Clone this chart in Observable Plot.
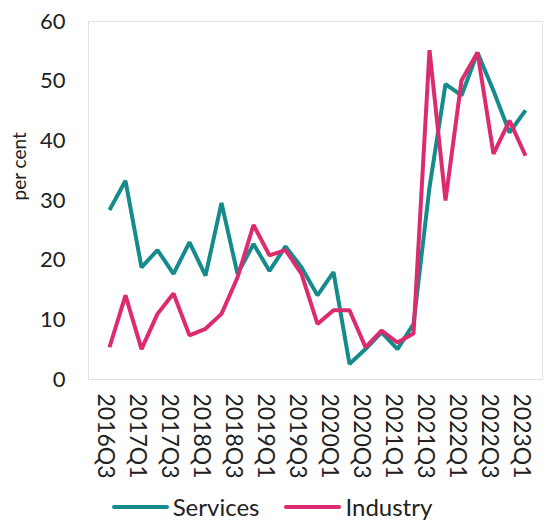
<!DOCTYPE html>
<html>
<head>
<meta charset="utf-8">
<script src="https://cdn.jsdelivr.net/npm/d3@7"></script>
<script src="https://cdn.jsdelivr.net/npm/@observablehq/plot@0.6"></script>
<style>
  html, body { margin: 0; padding: 0; background: #fff; overflow: hidden; }
  body { font-family: Lato, "Noto Sans", sans-serif; width: 544px; }
  #legend { display: flex; justify-content: center; align-items: center; font-size: 24px; color: #222; margin-top: 9px; line-height: 26px; }
  .item { display: flex; align-items: center; }
  .sw { width: 57px; height: 4px; border-radius: 2px; margin-right: 4px; }
  .item + .item { margin-left: 25px; }
</style>
</head>
<body>
<div id="chart"></div>
<div id="legend"></div>
<script>
const quarters = ["2016Q3","2016Q4","2017Q1","2017Q2","2017Q3","2017Q4","2018Q1","2018Q2","2018Q3","2018Q4","2019Q1","2019Q2","2019Q3","2019Q4","2020Q1","2020Q2","2020Q3","2020Q4","2021Q1","2021Q2","2021Q3","2021Q4","2022Q1","2022Q2","2022Q3","2022Q4","2023Q1"];
const services = [28.4, 33.3, 18.8, 21.7, 17.7, 23.0, 17.4, 29.6, 17.7, 22.7, 18.2, 22.3, 18.8, 14.1, 18.0, 2.6, 5.1, 7.9, 5.1, 9.3, 32.2, 49.5, 47.6, 54.8, 48.4, 41.4, 45.1];
const industry = [5.4, 14.1, 5.1, 11.0, 14.4, 7.4, 8.5, 11.0, 17.1, 25.9, 20.8, 21.7, 17.7, 9.3, 11.6, 11.6, 5.4, 8.2, 6.2, 7.7, 55.2, 30.0, 50.1, 54.8, 37.8, 43.4, 37.5];
const seriesNames = ["Services", "Industry"];
const seriesColors = ["#168b8b", "#dc2b6e"];
const yTicks = [0, 10, 20, 30, 40, 50, 60];
const xTicks = quarters.filter((d, i) => i % 2 === 0);
const yLabel = "per cent";

const rows = [];
[services, industry].forEach((vals, s) => vals.forEach((v, i) => rows.push({q: quarters[i], v, s: seriesNames[s]})));

const chart = Plot.plot({
  width: 544,
  height: 485,
  marginLeft: 88,
  marginRight: 2,
  marginTop: 21,
  marginBottom: 106,
  style: {fontFamily: "Lato, 'Noto Sans', sans-serif", fontSize: "22px", color: "#222"},
  x: {type: "point", domain: quarters, range: [96, 537], padding: 0},
  y: {domain: [0, 60]},
  color: {domain: seriesNames, range: seriesColors},
  marks: [
    Plot.frame({stroke: "#e3e3e3", strokeWidth: 1}),
    Plot.axisY({ticks: yTicks, tickSize: 0, tickPadding: 23, label: null, fontSize: 22}),
    Plot.axisX({ticks: xTicks, tickSize: 0, tickPadding: 14, tickRotate: 90, label: null, dx: -4, fontSize: 23}),
    Plot.text([yLabel], {frameAnchor: "left", rotate: -90, dx: -69, fontSize: 19, fill: "#222"}),
    Plot.line(rows.filter(d => d.s === "Services"), {x: "q", y: "v", stroke: "s", strokeWidth: 4, strokeLinejoin: "miter", strokeLinecap: "butt"}),
    Plot.line(rows.filter(d => d.s === "Industry"), {x: "q", y: "v", stroke: "s", strokeWidth: 4, strokeLinejoin: "miter", strokeLinecap: "butt"})
  ]
});
document.getElementById("chart").appendChild(chart);

const legend = document.getElementById("legend");
seriesNames.forEach((n, i) => {
  const it = document.createElement("div");
  it.className = "item";
  const sw = document.createElement("div");
  sw.className = "sw";
  sw.style.background = seriesColors[i];
  const t = document.createElement("span");
  t.textContent = n;
  it.appendChild(sw); it.appendChild(t);
  legend.appendChild(it);
});
</script>
</body>
</html>
